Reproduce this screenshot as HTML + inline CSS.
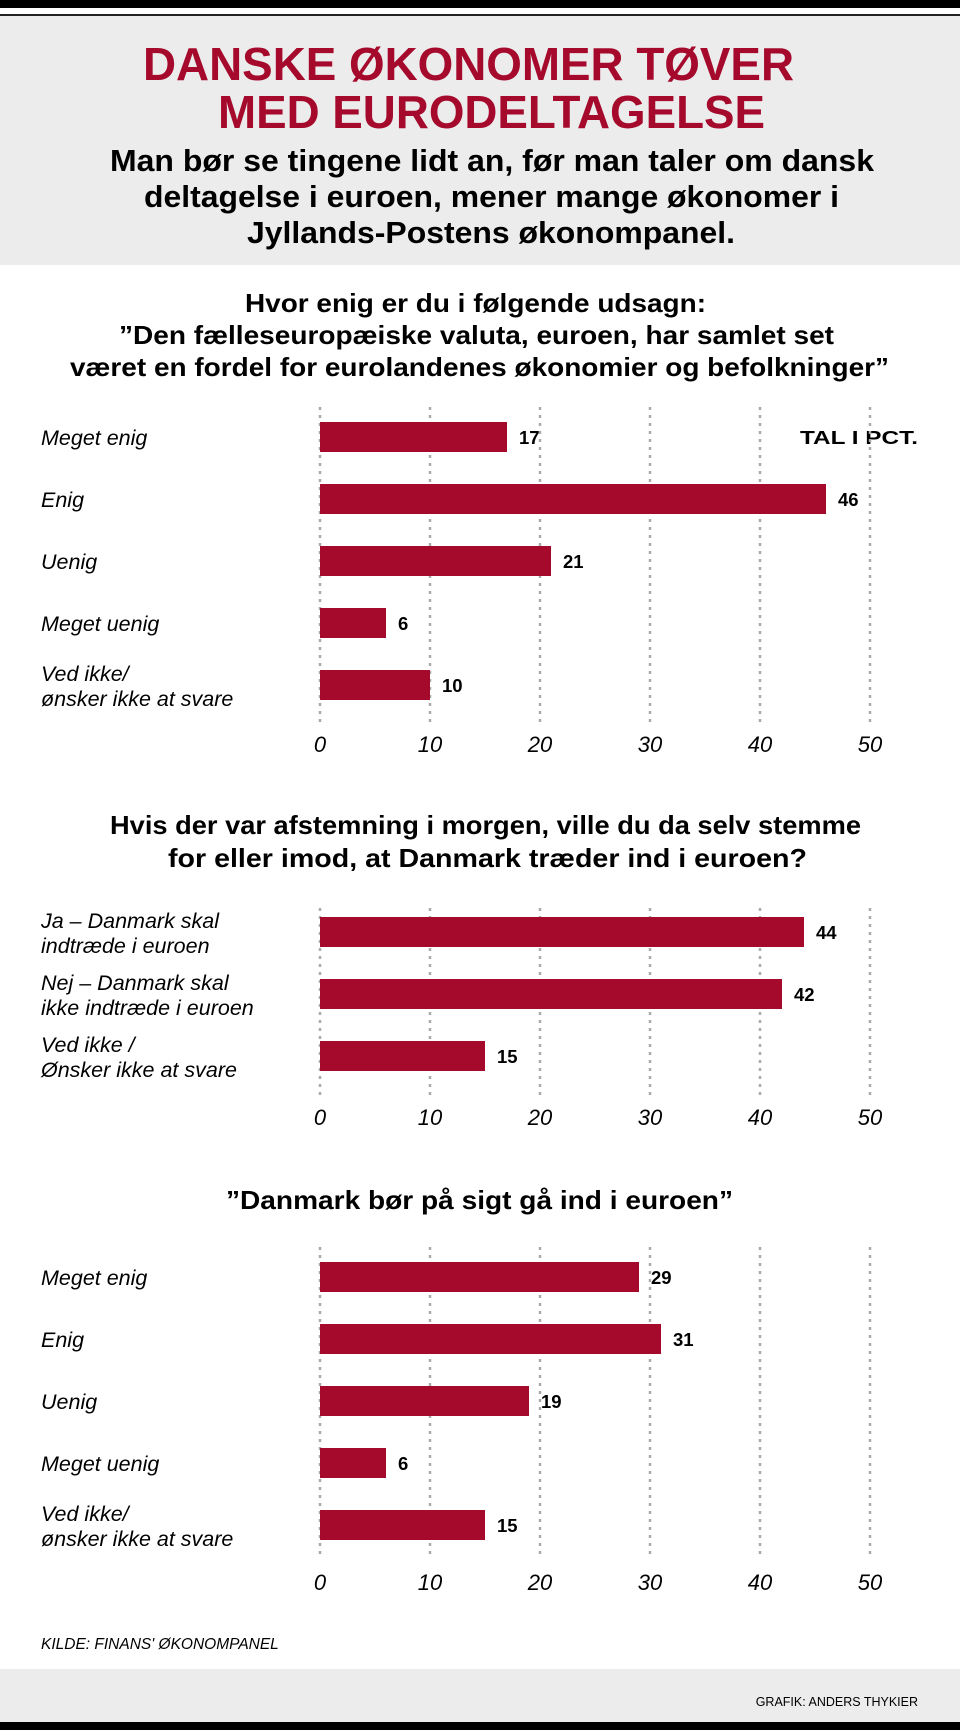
<!DOCTYPE html>
<html><head><meta charset="utf-8">
<style>
html,body{margin:0;padding:0;background:#fff;}
body{width:960px;height:1730px;overflow:hidden;font-family:"Liberation Sans",Arial,sans-serif;}
</style></head>
<body>
<svg id="s" width="960" height="1730" xmlns="http://www.w3.org/2000/svg" font-family="Liberation Sans, Arial, sans-serif">
<rect x="0" y="0" width="960" height="8" fill="#000"/>
<rect x="0" y="14" width="960" height="2" fill="#222"/>
<rect x="0" y="16" width="960" height="249" fill="#ececec"/>
<g fill="#a50a2d" font-weight="bold" font-size="46" lengthAdjust="spacingAndGlyphs">
<text x="143" y="80" textLength="651" lengthAdjust="spacingAndGlyphs">DANSKE ØKONOMER TØVER</text>
<text x="218" y="128" textLength="547" lengthAdjust="spacingAndGlyphs">MED EURODELTAGELSE</text>
</g>
<g fill="#000" font-weight="bold" font-size="31">
<text x="110" y="171" textLength="764" lengthAdjust="spacingAndGlyphs">Man bør se tingene lidt an, før man taler om dansk</text>
<text x="144" y="207" textLength="695" lengthAdjust="spacingAndGlyphs">deltagelse i euroen, mener mange økonomer i</text>
<text x="247" y="243" textLength="488" lengthAdjust="spacingAndGlyphs">Jyllands-Postens økonompanel.</text>
</g>
<g font-weight="bold" font-size="26">
<text x="245" y="312" textLength="461" lengthAdjust="spacingAndGlyphs">Hvor enig er du i følgende udsagn:</text>
<text x="119" y="344" textLength="715" lengthAdjust="spacingAndGlyphs">”Den fælleseuropæiske valuta, euroen, har samlet set</text>
<text x="70" y="376" textLength="819" lengthAdjust="spacingAndGlyphs">været en fordel for eurolandenes økonomier og befolkninger”</text>
</g>
<g font-weight="bold" font-size="26">
<text x="110" y="834" textLength="751" lengthAdjust="spacingAndGlyphs">Hvis der var afstemning i morgen, ville du da selv stemme</text>
<text x="168" y="867" textLength="639" lengthAdjust="spacingAndGlyphs">for eller imod, at Danmark træder ind i euroen?</text>
</g>
<g font-weight="bold" font-size="26">
<text x="226" y="1209" textLength="507" lengthAdjust="spacingAndGlyphs">”Danmark bør på sigt gå ind i euroen”</text>
</g>
<text x="800" y="444" font-weight="bold" font-size="18" textLength="118" lengthAdjust="spacingAndGlyphs">TAL I PCT.</text>
<text x="41" y="1649" font-style="italic" font-size="15.5">KILDE: FINANS' ØKONOMPANEL</text>
<rect x="0" y="1669" width="960" height="53" fill="#ececec"/>
<text x="918" y="1706" text-anchor="end" font-size="12.5">GRAFIK: ANDERS THYKIER</text>
<rect x="0" y="1722" width="960" height="8" fill="#000"/>
<g id="charts"></g>
</svg>
<script>
const ticks = [0,10,20,30,40,50];
const c1Labels = [["Meget enig"],["Enig"],["Uenig"],["Meget uenig"],["Ved ikke/","ønsker ikke at svare"]];
const c1Values = [17,46,21,6,10];
const c2Labels = [["Ja – Danmark skal","indtræde i euroen"],["Nej – Danmark skal","ikke indtræde i euroen"],["Ved ikke /","Ønsker ikke at svare"]];
const c2Values = [44,42,15];
const c3Labels = [["Meget enig"],["Enig"],["Uenig"],["Meget uenig"],["Ved ikke/","ønsker ikke at svare"]];
const c3Values = [29,31,19,6,15];

const NS="http://www.w3.org/2000/svg";
const root=document.getElementById('charts');
function mk(tag,attrs,parent){const e=document.createElementNS(NS,tag);for(const k in attrs)e.setAttribute(k,attrs[k]);parent.appendChild(e);return e;}
const x=v=>320+v*11;
function chart(id,labels,values,firstCenter,gridTop,gridBottom,tickY){
  const g=mk('g',{},root);
  
  
  ticks.forEach(t=>{
    const l=mk('line',{x1:x(t),x2:x(t),y1:gridTop,y2:gridBottom,stroke:'#aaa','stroke-width':2.5,'stroke-dasharray':'3 5'},g);
    
    
    const tx=mk('text',{x:x(t),y:tickY,'text-anchor':'middle','font-size':22,'font-style':'italic'},g);
    tx.textContent=t;
    
    
  });
  values.forEach((v,i)=>{
    const cy=firstCenter+i*62;
    const r=mk('rect',{x:x(0),y:cy-15,width:x(v)-x(0),height:30,fill:'#a50a2d'},g);
    
    
    const vt=mk('text',{x:x(v)+12,y:cy+7,'font-size':18.5,'font-weight':'bold'},g);
    vt.textContent=v;
    
    
    const lab=labels[i];
    const lt=mk('text',{x:41,'font-size':21.5,'font-style':'italic'},g);
    
    
    const y0= lab.length===1 ? cy+8 : cy-4;
    lab.forEach((s,j)=>{const ts=mk('tspan',{x:41,y:y0+j*25},lt);ts.textContent=s;});
  });
}
chart('chart1',c1Labels,c1Values,437,407,722,752);
chart('chart2',c2Labels,c2Values,932,908,1098,1125);
chart('chart3',c3Labels,c3Values,1277,1247,1558,1590);
</script>
</body></html>
